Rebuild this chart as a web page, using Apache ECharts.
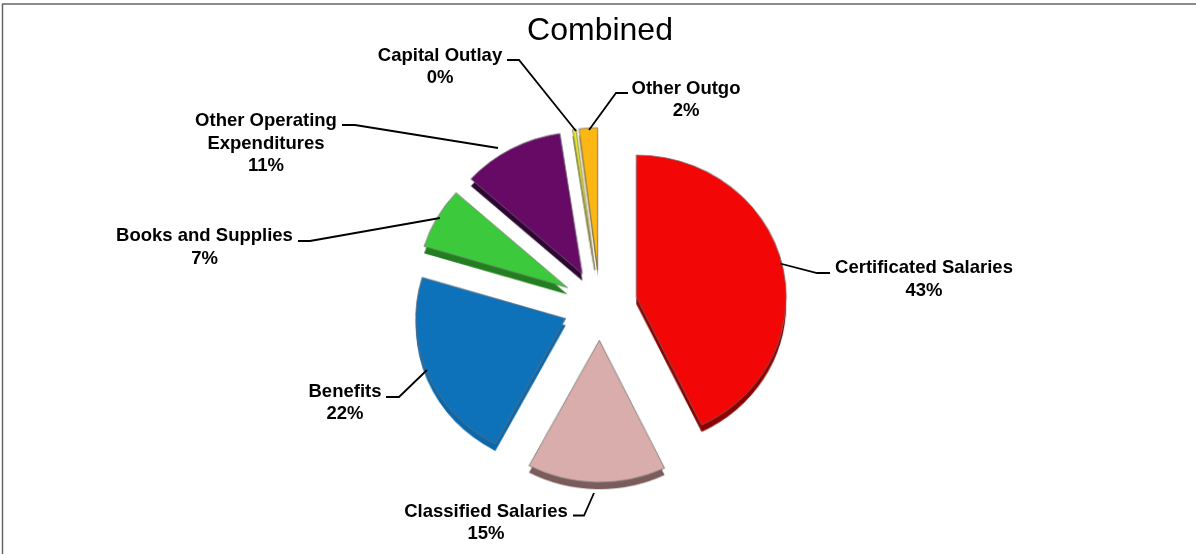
<!DOCTYPE html>
<html>
<head>
<meta charset="utf-8">
<title>Combined</title>
<script src="https://cdn.jsdelivr.net/npm/echarts@6/dist/echarts.min.js"></script>
<style>
html, body { margin: 0; padding: 0; background: #fff; }
#stage { position: relative; width: 1196px; height: 554px; overflow: hidden; }
#stage > div { position: absolute; left: 0; top: 0; width: 1196px; height: 554px; }
/* The pie sits on a tilted plane, so its circle is squeezed into an ellipse */
#slices { transform-origin: 600px 305px; transform: scale(1.034, 0.98); }
</style>
</head>
<body>
<div id="stage">
  <div id="slices"></div>
  <div id="callouts"></div>
</div>
<script>
// Expenditure categories, clockwise from twelve o'clock
const categories = ['Certificated Salaries', 'Classified Salaries', 'Benefits', 'Books and Supplies',
  'Other Operating\nExpenditures', 'Capital Outlay', 'Other Outgo'];
const shares = [43, 15, 22, 7, 11, 0.4, 2];
const faceColors = ['#f20606', '#d9adab', '#0e72bb', '#3dc93c', '#660a66', '#e6e62a', '#fbb814'];
const sideColors = ['#8a0202', '#7a5c5c', '#0c66aa', '#227f1f', '#2e0633', '#7d7d10', '#9a7208'];

// Callout placement per slice: label anchor and leader-line bend points
const callouts = [
  { x: 924, y: 279.5, line: [[780, 263.5], [817, 273], [830, 273]] },
  { x: 486, y: 523, line: [[594, 493], [584, 515.5], [573, 515.5]] },
  { x: 345, y: 403, line: [[427, 370], [399, 397], [386, 397]] },
  { x: 204.5, y: 247.5, line: [[440, 218], [310, 241], [298, 241]] },
  { x: 266, y: 143.5, line: [[498, 148], [355, 125], [342, 125]] },
  { x: 440, y: 67, line: [[576, 131], [519, 60], [507, 60]] },
  { x: 686, y: 100, line: [[589, 130], [616, 93], [628, 93]] }
];

const center = [600, 305];
const depth = 7;
const radius = 145;
const explode = 36;

function pieData(colors, border, selected) {
  return categories.map((name, i) => ({
    name,
    value: shares[i],
    selected,
    itemStyle: Object.assign({ color: colors[i] }, border)
  }));
}

const slicesChart = echarts.init(document.getElementById('slices'), null, { renderer: 'canvas' });
slicesChart.setOption({
  animation: false,
  series: [
    {
      // Darker copy set slightly lower gives the slices their thickness
      type: 'pie',
      silent: true,
      radius: [0, radius],
      center: [center[0], center[1] + depth],
      startAngle: 90,
      selectedMode: 'multiple',
      selectedOffset: explode,
      label: { show: false },
      labelLine: { show: false },
      emphasis: { disabled: true },
      data: pieData(sideColors, {}, true)
    },
    {
      // Exploded top faces
      type: 'pie',
      silent: true,
      radius: [0, radius],
      center: center,
      startAngle: 90,
      selectedMode: 'multiple',
      selectedOffset: explode,
      label: { show: false },
      labelLine: { show: false },
      emphasis: { disabled: true },
      data: pieData(faceColors, { borderColor: 'rgba(110,110,110,0.75)', borderWidth: 1 }, true)
    }
  ]
});

const calloutChart = echarts.init(document.getElementById('callouts'), null, { renderer: 'canvas' });
calloutChart.setOption({
  animation: false,
  title: {
    text: 'Combined',
    left: 595,
    top: 10,
    textAlign: 'center',
    textStyle: { fontFamily: 'Liberation Sans', fontSize: 32, fontWeight: 'normal', color: '#000' }
  },
  graphic: [
    { type: 'line', silent: true, shape: { x1: 2.5, y1: 4, x2: 2.5, y2: 554 }, style: { stroke: '#666', lineWidth: 1.5 } },
    { type: 'line', silent: true, shape: { x1: 2, y1: 4, x2: 1196, y2: 4 }, style: { stroke: '#666', lineWidth: 1.5 } }
  ],
  series: [
    {
      // Unexploded transparent layer that carries the callouts at fixed places
      type: 'pie',
      silent: true,
      radius: [0, radius],
      center: center,
      startAngle: 90,
      percentPrecision: 0,
      selectedMode: false,
      emphasis: { disabled: true },
      label: {
        show: true,
        position: 'outside',
        formatter: '{b}\n{d}%',
        fontFamily: 'Liberation Sans',
        fontSize: 18.5,
        fontWeight: 'bold',
        lineHeight: 22.5,
        color: '#000',
        align: 'center'
      },
      labelLine: { show: true, lineStyle: { color: '#000', width: 1.8 } },
      labelLayout: function (params) {
        const c = callouts[params.dataIndex];
        return { x: c.x, y: c.y, align: 'center', verticalAlign: 'middle', labelLinePoints: c.line };
      },
      data: pieData(faceColors.map(() => 'transparent'), {}, false)
    }
  ]
});
</script>
</body>
</html>
